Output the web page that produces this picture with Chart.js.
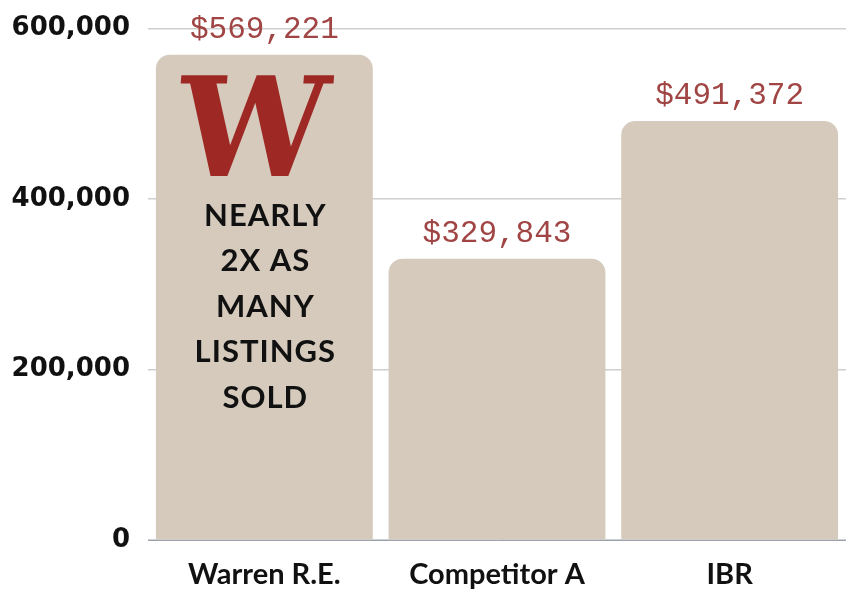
<!DOCTYPE html>
<html>
<head>
<meta charset="utf-8">
<script src="https://cdn.jsdelivr.net/npm/chart.js@4/dist/chart.umd.min.js"></script>
<style>
  html, body { margin: 0; padding: 0; background: #fff; }
  #chart { display: block; }
</style>
</head>
<body>
<canvas id="chart" width="846" height="589"></canvas>
<script>
// Data.
const categories = ['Warren R.E.', 'Competitor A', 'IBR'];
const medianPrices = [569221, 329843, 491372];
const yTicks = [0, 200000, 400000, 600000];
const calloutLines = ['NEARLY', '2X AS', 'MANY', 'LISTINGS', 'SOLD'];

const barColor = '#d5cabc';
const labelRed = '#a04444';
const logoRed = '#9e2824';

// Draws the dollar labels above each bar, plus the logo and callout on the first bar.
const barLabels = {
  id: 'barLabels',
  afterDatasetsDraw(chart) {
    const ctx = chart.ctx;
    const meta = chart.getDatasetMeta(0);
    ctx.save();
    ctx.fillStyle = labelRed;
    ctx.font = '31px "Liberation Mono", monospace';
    ctx.textAlign = 'center';
    ctx.textBaseline = 'middle';
    meta.data.forEach((bar, i) => {
      const text = '$' + medianPrices[i].toLocaleString('en-US');
      ctx.fillText(text, bar.x, bar.y - 25);
    });

    // logo "W" inside first bar
    const first = meta.data[0];
    ctx.save();
    ctx.fillStyle = logoRed;
    ctx.font = 'bold 120px "DejaVu Serif", serif';
    const w = ctx.measureText('W').width;
    ctx.translate(first.x - 12, first.y + 86);
    ctx.transform(1, 0, -0.08, 1, 0, 0);
    ctx.scale(150 / w, 1.15);
    ctx.textBaseline = 'middle';
    ctx.fillText('W', 0, 0);
    ctx.restore();

    // callout text
    ctx.fillStyle = '#111';
    ctx.font = 'bold 31px Lato, sans-serif';
    ctx.letterSpacing = '1px';
    calloutLines.forEach((line, i) => {
      ctx.fillText(line, first.x + 1, first.y + 161 + i * 45.5);
    });
    ctx.restore();
  }
};

new Chart(document.getElementById('chart'), {
  type: 'bar',
  data: {
    labels: categories,
    datasets: [{
      data: medianPrices,
      backgroundColor: barColor,
      borderRadius: { topLeft: 14, topRight: 14, bottomLeft: 0, bottomRight: 0 },
      borderSkipped: 'bottom',
      categoryPercentage: 1,
      barPercentage: 0.932
    }]
  },
  options: {
    responsive: false,
    animation: false,
    layout: { padding: { top: 0, right: 0, left: 0, bottom: 0 } },
    plugins: {
      legend: { display: false },
      tooltip: { enabled: false }
    },
    scales: {
      x: {
        grid: { display: false, drawTicks: false },
        border: { display: true, color: '#9aa3ad', width: 1 },
        afterFit(scale) { scale.height = 49; },
        ticks: {
          color: '#111',
          padding: 17,
          font: { family: 'Lato, sans-serif', weight: 'bold', size: 29 }
        }
      },
      y: {
        min: 0,
        max: 600000,
        afterBuildTicks(scale) {
          scale.ticks = yTicks.map(v => ({ value: v }));
        },
        afterFit(scale) { scale.width = 148; },
        grid: { color: '#cfcfcf', lineWidth: 1.5, drawTicks: false },
        border: { display: false },
        ticks: {
          color: '#111',
          padding: 18,
          font: { family: '"DejaVu Sans", sans-serif', weight: 'bold', size: 26, lineHeight: 0.8 },
          callback: v => v.toLocaleString('en-US')
        }
      }
    }
  },
  plugins: [barLabels]
});
</script>
</body>
</html>
